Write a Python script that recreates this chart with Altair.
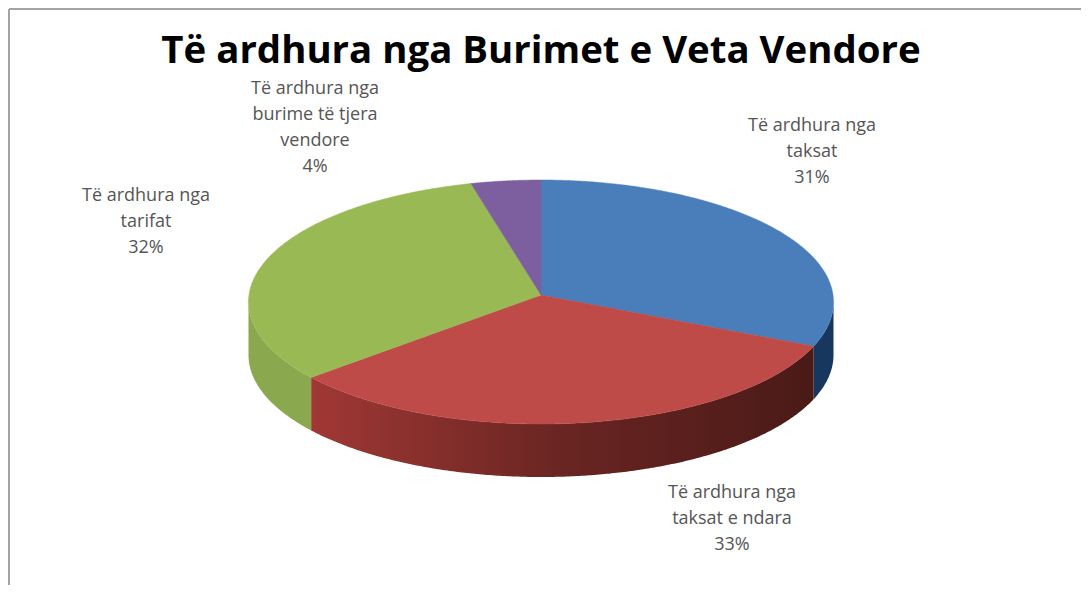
import math
import altair as alt
import pandas as pd

TITLE = "Të ardhura nga Burimet e Veta Vendore"
names = ["taksat", "ndara", "tarifat", "tjera"]
shares = [30.9, 33.49, 31.76, 3.85]
top_colors = ["#4a7ebb", "#be4b48", "#98b954", "#7d5fa0"]
wall_fills = {
    "taksat": "#17375e",
    "ndara": alt.Gradient(gradient="linear", x1=0, x2=1, y1=0, y2=0, stops=[
        alt.GradientStop(offset=0, color="#a03835"),
        alt.GradientStop(offset=0.5, color="#692522"),
        alt.GradientStop(offset=1, color="#4a1a17")]),
    "tarifat": "#8aa84e",
}
label_lines = [
    ["Të ardhura nga", "taksat", "31%"],
    ["Të ardhura nga", "taksat e ndara", "33%"],
    ["Të ardhura nga", "tarifat", "32%"],
    ["Të ardhura nga", "burime të tjera", "vendore", "4%"],
]

CX, CY, RX, RY, DEPTH, APEX_Y = 540, 301, 292.5, 122, 53, 294
LABEL_POS = [(811, 125), (731, 492), (145, 195), (314, 88)]
W, H = 1073, 577

def pt(deg, drop=0):
    t = math.radians(deg)
    return CX + RX * math.sin(t), CY - RY * math.cos(t) + drop

def arc(a, b, drop=0):
    n = max(2, int(abs(b - a)) * 2)
    return [pt(a + (b - a) * i / n, drop) for i in range(n + 1)]

top_rows, wall_rows = [], []
start = 0.0
for name, share in zip(names, shares):
    end = start + share * 3.6
    poly = [(CX, APEX_Y)] + arc(start, end) + [(CX, APEX_Y)]
    top_rows += [dict(s=name, x=x, y=y, o=i) for i, (x, y) in enumerate(poly)]
    a, b = max(start, 90), min(end, 270)
    if a < b:
        wall = arc(a, b) + arc(b, a, DEPTH)
        wall_rows += [dict(s=name, x=x, y=y, o=i) for i, (x, y) in enumerate(wall)]
    start = end
tops = pd.DataFrame(top_rows)
walls = pd.DataFrame(wall_rows)

xs = alt.Scale(domain=[8, 8 + W], range=[0, W], nice=False, zero=False)
ys = alt.Scale(domain=[8, 8 + H], range=[0, H], nice=False, zero=False)
enc = dict(
    x=alt.X("x:Q", scale=xs, axis=None),
    y=alt.Y("y:Q", scale=ys, axis=None),
    order="o:Q",
)
layers = []
for name, fill in wall_fills.items():
    layers.append(alt.Chart(walls[walls.s == name]).mark_line(
        fill=fill, strokeOpacity=0, interpolate="linear").encode(**enc))
for name, col in zip(names, top_colors):
    layers.append(alt.Chart(tops[tops.s == name]).mark_line(
        fill=col, stroke=col, strokeWidth=0.5, interpolate="linear").encode(**enc))

for lines, (px, py) in zip(label_lines, LABEL_POS):
    layers.append(alt.Chart(pd.DataFrame({"a": [0]})).mark_text(
        text=lines, font="Open Sans", fontSize=18, color="#555555", lineHeight=26,
        align="center", baseline="middle"
    ).encode(x=alt.value(px - 8), y=alt.value(py - 8)))

layers.append(alt.Chart(pd.DataFrame({"a": [0]})).mark_text(
    text=TITLE, font="Open Sans", fontWeight="bold", fontSize=38.4, color="#000000",
    align="center", baseline="middle"
).encode(x=alt.value(540 - 8), y=alt.value(50 - 8)))

border = "#a3a3a3"
layers.append(alt.Chart(pd.DataFrame({"a": [0]})).mark_rule(color=border, strokeWidth=2).encode(
    x=alt.value(0), x2=alt.value(W), y=alt.value(0)))
layers.append(alt.Chart(pd.DataFrame({"a": [0]})).mark_rule(color=border, strokeWidth=2).encode(
    x=alt.value(0), y=alt.value(0), y2=alt.value(H)))

chart = alt.layer(*layers).properties(
    width=W, height=H, padding=0, background="white",
    autosize=alt.AutoSizeParams(type="fit", contains="padding"),
).configure_view(stroke=None)

chart.save("out.html", embed_options={"renderer": "svg", "actions": False})
